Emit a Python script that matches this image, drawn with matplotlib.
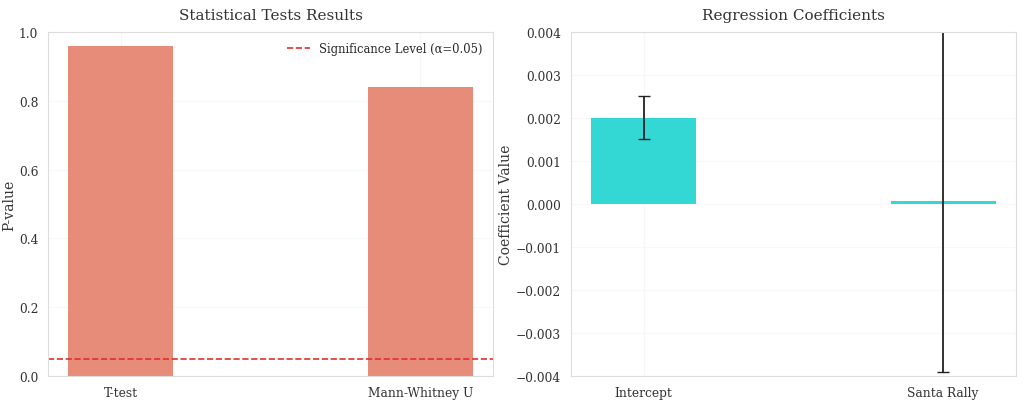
import matplotlib
matplotlib.use('Agg')
import matplotlib.pyplot as plt
import seaborn as sns

sns.set_style('whitegrid')
plt.rcParams['font.family'] = ['DejaVu Serif']

tests = ['T-test', 'Mann-Whitney U']
pvalues = [0.96, 0.84]
alpha_level = 0.05

coef_names = ['Intercept', 'Santa Rally']
coefs = [0.002, 0.00008]
coef_err = [0.0005, 0.00398]

fig, (ax1, ax2) = plt.subplots(1, 2, figsize=(10.24, 4.02), dpi=100)

ax1.bar(tests, pvalues, width=0.35, color='#E68C78', lw=0)
ax1.axhline(alpha_level, color='#E03030', ls='--', lw=1.2, label='Significance Level (\u03b1=0.05)')
ax1.set_ylim(0, 1.0)
ax1.set_ylabel('P-value', fontsize=10, color='#333333', labelpad=2)
ax1.set_title('Statistical Tests Results', fontsize=11, color='#333333', pad=9)
ax1.legend(frameon=False, fontsize=8.3, loc='upper right')

ax2.bar(coef_names, coefs, width=0.35, color='#33D8D4', lw=0, yerr=coef_err,
        capsize=4, error_kw=dict(ecolor='#222222', lw=1.3))
ax2.set_ylim(-0.004, 0.004)
ax2.set_ylabel('Coefficient Value', fontsize=10, color='#333333', labelpad=2)
ax2.set_title('Regression Coefficients', fontsize=11, color='#333333', pad=9)

for ax in (ax1, ax2):
    ax.grid(True, color='#f7f7f7', lw=0.8)
    ax.tick_params(labelsize=8.8, colors='#333333')
    for s in ax.spines.values():
        s.set_color('#dddddd')

fig.subplots_adjust(left=0.047, right=0.992, top=0.918, bottom=0.062, wspace=0.175)
fig.savefig('out.png', dpi=100)
